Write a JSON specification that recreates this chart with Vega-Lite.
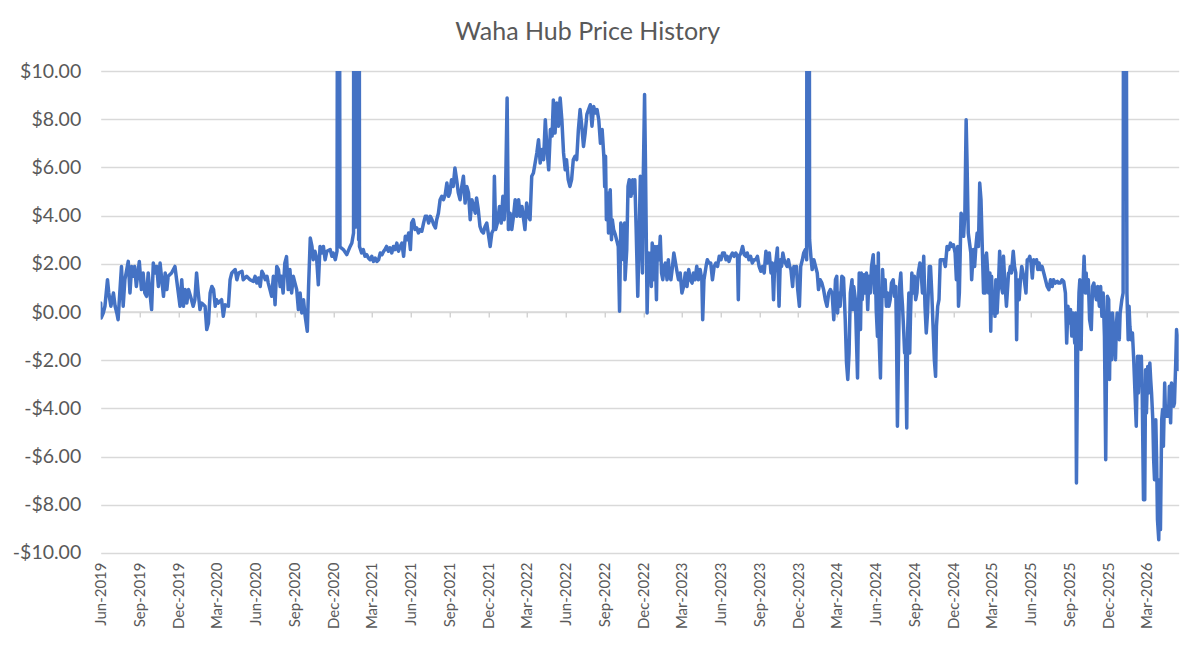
{
  "$schema": "https://vega.github.io/schema/vega-lite/v6.json",
  "width": 1078,
  "height": 482,
  "autosize": {"type": "none"},
  "padding": {"left": 100.7, "top": 71, "right": 21, "bottom": 116},
  "background": "white",
  "title": {
    "text": "Waha Hub Price History",
    "anchor": "middle",
    "frame": "group",
    "dx": -52,
    "offset": 16,
    "font": "Lato",
    "fontSize": 25,
    "fontWeight": "normal",
    "color": "#595959"
  },
  "config": {"view": {"stroke": null}},
  "resolve": {"axis": {"x": "independent"}},
  "layer": [
    {
      "data": {"values": [{}]},
      "mark": {"type": "rule", "color": "#d9d9d9", "strokeWidth": 1.3},
      "encoding": {
        "x": {
          "datum": {"year": 2019, "month": 6, "date": 1, "utc": true},
          "type": "temporal",
          "scale": {"type": "utc", "domain": [{"year": 2019, "month": 6, "date": 1, "utc": true}, {"year": 2026, "month": 5, "date": 16, "utc": true}]},
          "axis": {
            "orient": "bottom",
            "offset": -241,
            "title": null,
            "labels": false,
            "domain": false,
            "grid": false,
            "ticks": true,
            "tickSize": 5,
            "tickWidth": 1,
            "tickColor": "#bfbfbf",
            "values": [
              {"year": 2019, "month": 6, "date": 1, "utc": true}, {"year": 2019, "month": 9, "date": 1, "utc": true}, {"year": 2019, "month": 12, "date": 1, "utc": true},
              {"year": 2020, "month": 3, "date": 1, "utc": true}, {"year": 2020, "month": 6, "date": 1, "utc": true}, {"year": 2020, "month": 9, "date": 1, "utc": true}, {"year": 2020, "month": 12, "date": 1, "utc": true},
              {"year": 2021, "month": 3, "date": 1, "utc": true}, {"year": 2021, "month": 6, "date": 1, "utc": true}, {"year": 2021, "month": 9, "date": 1, "utc": true}, {"year": 2021, "month": 12, "date": 1, "utc": true},
              {"year": 2022, "month": 3, "date": 1, "utc": true}, {"year": 2022, "month": 6, "date": 1, "utc": true}, {"year": 2022, "month": 9, "date": 1, "utc": true}, {"year": 2022, "month": 12, "date": 1, "utc": true},
              {"year": 2023, "month": 3, "date": 1, "utc": true}, {"year": 2023, "month": 6, "date": 1, "utc": true}, {"year": 2023, "month": 9, "date": 1, "utc": true}, {"year": 2023, "month": 12, "date": 1, "utc": true},
              {"year": 2024, "month": 3, "date": 1, "utc": true}, {"year": 2024, "month": 6, "date": 1, "utc": true}, {"year": 2024, "month": 9, "date": 1, "utc": true}, {"year": 2024, "month": 12, "date": 1, "utc": true},
              {"year": 2025, "month": 3, "date": 1, "utc": true}, {"year": 2025, "month": 6, "date": 1, "utc": true}, {"year": 2025, "month": 9, "date": 1, "utc": true}, {"year": 2025, "month": 12, "date": 1, "utc": true},
              {"year": 2026, "month": 3, "date": 1, "utc": true}
            ]
          }
        },
        "x2": {"datum": {"year": 2026, "month": 5, "date": 16, "utc": true}},
        "y": {"datum": 0, "type": "quantitative"}
      }
    },
    {
      "data": {"values": [
        {"d":"2019-06-01","p":0.37},{"d":"2019-06-02","p":-0.25},{"d":"2019-06-07","p":-0.04},{"d":"2019-06-11","p":0.24},{"d":"2019-06-17","p":1.34},{"d":"2019-06-20","p":0.79},{"d":"2019-06-25","p":0.24},
        {"d":"2019-07-01","p":0.79},{"d":"2019-07-05","p":0.24},{"d":"2019-07-09","p":-0.04},{"d":"2019-07-12","p":-0.32},{"d":"2019-07-16","p":0.79},{"d":"2019-07-20","p":1.89},{"d":"2019-07-24","p":0.24},{"d":"2019-07-28","p":1.34},
        {"d":"2019-08-05","p":2.1},{"d":"2019-08-09","p":0.79},{"d":"2019-08-13","p":1.89},{"d":"2019-08-16","p":1.48},{"d":"2019-08-20","p":1.89},{"d":"2019-08-24","p":1.06},{"d":"2019-08-31","p":2.1},
        {"d":"2019-09-05","p":0.93},{"d":"2019-09-09","p":1.62},{"d":"2019-09-13","p":0.79},{"d":"2019-09-17","p":0.65},{"d":"2019-09-21","p":1.62},{"d":"2019-09-25","p":0.79},{"d":"2019-09-29","p":0.1},
        {"d":"2019-10-03","p":2.03},{"d":"2019-10-07","p":1.62},{"d":"2019-10-11","p":1.89},{"d":"2019-10-15","p":1.06},{"d":"2019-10-19","p":2.03},{"d":"2019-10-23","p":1.34},{"d":"2019-10-27","p":0.65},{"d":"2019-10-31","p":1.62},
        {"d":"2019-11-04","p":0.93},{"d":"2019-11-07","p":1.48},{"d":"2019-11-15","p":1.62},{"d":"2019-11-23","p":1.89},{"d":"2019-11-27","p":1.34},
        {"d":"2019-12-01","p":0.79},{"d":"2019-12-05","p":0.24},{"d":"2019-12-09","p":1.34},{"d":"2019-12-13","p":0.24},{"d":"2019-12-17","p":0.93},{"d":"2019-12-21","p":0.37},{"d":"2019-12-25","p":0.93},
        {"d":"2020-01-01","p":0.51},{"d":"2020-01-05","p":0.24},{"d":"2020-01-09","p":0.51},{"d":"2020-01-13","p":1.62},{"d":"2020-01-17","p":0.79},{"d":"2020-01-21","p":0.1},{"d":"2020-01-25","p":0.37},
        {"d":"2020-02-02","p":0.24},{"d":"2020-02-06","p":-0.73},{"d":"2020-02-10","p":-0.46},{"d":"2020-02-14","p":0.79},{"d":"2020-02-18","p":1.06},{"d":"2020-02-22","p":0.93},{"d":"2020-02-26","p":0.24},{"d":"2020-02-29","p":0.51},
        {"d":"2020-03-04","p":0.37},{"d":"2020-03-12","p":0.51},{"d":"2020-03-16","p":-0.18},{"d":"2020-03-20","p":0.3},{"d":"2020-03-28","p":0.24},
        {"d":"2020-04-01","p":1.34},{"d":"2020-04-05","p":1.62},{"d":"2020-04-13","p":1.76},{"d":"2020-04-17","p":1.34},{"d":"2020-04-21","p":1.62},{"d":"2020-04-29","p":1.69},
        {"d":"2020-05-02","p":1.34},{"d":"2020-05-10","p":1.48},{"d":"2020-05-18","p":1.34},{"d":"2020-05-26","p":1.27},{"d":"2020-05-30","p":1.48},
        {"d":"2020-06-03","p":1.2},{"d":"2020-06-07","p":1.41},{"d":"2020-06-11","p":1.06},{"d":"2020-06-15","p":1.69},{"d":"2020-06-19","p":1.55},{"d":"2020-06-23","p":1.34},{"d":"2020-06-27","p":1.48},{"d":"2020-06-30","p":1.2},
        {"d":"2020-07-04","p":0.93},{"d":"2020-07-08","p":0.65},{"d":"2020-07-12","p":1.48},{"d":"2020-07-16","p":0.3},{"d":"2020-07-20","p":1.89},{"d":"2020-07-24","p":1.76},{"d":"2020-07-28","p":1.06},{"d":"2020-07-31","p":1.48},
        {"d":"2020-08-04","p":0.79},{"d":"2020-08-08","p":2.03},{"d":"2020-08-12","p":2.3},{"d":"2020-08-16","p":0.93},{"d":"2020-08-20","p":1.76},{"d":"2020-08-24","p":0.79},{"d":"2020-08-28","p":1.48},
        {"d":"2020-09-01","p":1.2},{"d":"2020-09-05","p":0.93},{"d":"2020-09-09","p":0.1},{"d":"2020-09-13","p":0.79},{"d":"2020-09-17","p":-0.04},{"d":"2020-09-21","p":0.51},{"d":"2020-09-25","p":-0.18},{"d":"2020-09-30","p":-0.8},
        {"d":"2020-10-03","p":1.06},{"d":"2020-10-07","p":3.07},{"d":"2020-10-11","p":2.72},{"d":"2020-10-14","p":2.17},{"d":"2020-10-18","p":2.52},{"d":"2020-10-22","p":2.24},{"d":"2020-10-26","p":1.13},{"d":"2020-10-30","p":2.72},
        {"d":"2020-11-03","p":2.45},{"d":"2020-11-07","p":2.72},{"d":"2020-11-11","p":2.17},{"d":"2020-11-15","p":2.52},{"d":"2020-11-23","p":2.59},{"d":"2020-11-27","p":2.31},{"d":"2020-11-30","p":2.45},
        {"d":"2020-12-05","p":2.17},{"d":"2020-12-09","p":2.52},{"d":"2020-12-11","p":25},{"d":"2020-12-12","p":6},{"d":"2020-12-13","p":30},{"d":"2020-12-14","p":25},{"d":"2020-12-16","p":2.7},{"d":"2020-12-24","p":2.59},
        {"d":"2021-01-01","p":2.38},{"d":"2021-01-09","p":2.72},{"d":"2021-01-13","p":2.86},{"d":"2021-01-17","p":3.28},
        {"d":"2021-01-18","p":35},{"d":"2021-01-19","p":3.5},{"d":"2021-01-20","p":45},{"d":"2021-01-21","p":4},{"d":"2021-01-22","p":55},{"d":"2021-01-23","p":4},{"d":"2021-01-24","p":60},{"d":"2021-01-25","p":4},{"d":"2021-01-26","p":50},{"d":"2021-01-27","p":3.5},{"d":"2021-01-28","p":40},{"d":"2021-01-29","p":3},{"d":"2021-01-30","p":30},{"d":"2021-01-31","p":2.72},
        {"d":"2021-02-05","p":2.45},{"d":"2021-02-09","p":2.59},{"d":"2021-02-13","p":2.31},{"d":"2021-02-17","p":2.38},{"d":"2021-02-21","p":2.24},{"d":"2021-02-25","p":2.17},
        {"d":"2021-03-01","p":2.31},{"d":"2021-03-05","p":2.1},{"d":"2021-03-09","p":2.24},{"d":"2021-03-13","p":2.1},{"d":"2021-03-17","p":2.17},{"d":"2021-03-21","p":2.45},{"d":"2021-03-25","p":2.38},{"d":"2021-03-29","p":2.52},
        {"d":"2021-04-01","p":2.59},{"d":"2021-04-05","p":2.72},{"d":"2021-04-09","p":2.52},{"d":"2021-04-13","p":2.66},{"d":"2021-04-17","p":2.45},{"d":"2021-04-21","p":2.72},{"d":"2021-04-25","p":2.59},{"d":"2021-04-29","p":2.86},
        {"d":"2021-05-03","p":2.52},{"d":"2021-05-07","p":2.72},{"d":"2021-05-11","p":2.86},{"d":"2021-05-15","p":2.31},{"d":"2021-05-19","p":3.14},{"d":"2021-05-23","p":3.0},{"d":"2021-05-27","p":3.28},{"d":"2021-05-31","p":2.59},
        {"d":"2021-06-03","p":3.7},{"d":"2021-06-07","p":3.83},{"d":"2021-06-11","p":3.42},{"d":"2021-06-15","p":3.49},{"d":"2021-06-19","p":3.28},{"d":"2021-06-23","p":3.42},{"d":"2021-06-27","p":3.35},
        {"d":"2021-07-01","p":3.69},{"d":"2021-07-05","p":3.97},{"d":"2021-07-09","p":3.97},{"d":"2021-07-13","p":3.69},{"d":"2021-07-17","p":3.97},{"d":"2021-07-21","p":3.83},{"d":"2021-07-25","p":3.62},{"d":"2021-07-29","p":3.49},
        {"d":"2021-08-01","p":3.83},{"d":"2021-08-05","p":4.1},{"d":"2021-08-09","p":4.66},{"d":"2021-08-13","p":4.8},{"d":"2021-08-17","p":4.66},{"d":"2021-08-21","p":4.87},{"d":"2021-08-25","p":5.35},{"d":"2021-08-29","p":4.8},
        {"d":"2021-09-01","p":4.94},{"d":"2021-09-05","p":5.49},{"d":"2021-09-09","p":5.21},{"d":"2021-09-13","p":5.98},{"d":"2021-09-17","p":5.49},{"d":"2021-09-21","p":4.94},{"d":"2021-09-25","p":4.66},{"d":"2021-09-29","p":5.2},
        {"d":"2021-10-03","p":5.63},{"d":"2021-10-07","p":4.52},{"d":"2021-10-11","p":5.21},{"d":"2021-10-15","p":4.94},{"d":"2021-10-19","p":3.83},{"d":"2021-10-23","p":4.66},{"d":"2021-10-27","p":4.38},{"d":"2021-10-31","p":4.1},
        {"d":"2021-11-03","p":4.73},{"d":"2021-11-07","p":4.25},{"d":"2021-11-11","p":3.55},{"d":"2021-11-15","p":3.35},{"d":"2021-11-19","p":3.28},{"d":"2021-11-23","p":3.55},{"d":"2021-11-27","p":3.69},
        {"d":"2021-12-01","p":3.21},{"d":"2021-12-05","p":2.72},{"d":"2021-12-09","p":3.28},{"d":"2021-12-13","p":3.42},{"d":"2021-12-15","p":5.63},{"d":"2021-12-18","p":3.42},{"d":"2021-12-22","p":3.69},{"d":"2021-12-27","p":4.38},{"d":"2021-12-31","p":3.69},
        {"d":"2022-01-04","p":4.8},{"d":"2022-01-07","p":3.83},{"d":"2022-01-10","p":4.66},{"d":"2022-01-14","p":8.88},{"d":"2022-01-17","p":3.42},{"d":"2022-01-21","p":4.1},{"d":"2022-01-25","p":3.42},{"d":"2022-01-29","p":3.97},
        {"d":"2022-02-02","p":4.66},{"d":"2022-02-06","p":3.97},{"d":"2022-02-10","p":4.66},{"d":"2022-02-14","p":3.97},{"d":"2022-02-18","p":4.38},{"d":"2022-02-22","p":3.83},{"d":"2022-02-25","p":3.42},
        {"d":"2022-03-01","p":4.52},{"d":"2022-03-05","p":3.97},{"d":"2022-03-09","p":3.83},{"d":"2022-03-13","p":5.63},{"d":"2022-03-17","p":5.77},{"d":"2022-03-21","p":6.18},{"d":"2022-03-25","p":6.6},{"d":"2022-03-29","p":7.15},
        {"d":"2022-04-02","p":6.18},{"d":"2022-04-06","p":6.74},{"d":"2022-04-10","p":6.32},{"d":"2022-04-14","p":7.98},{"d":"2022-04-18","p":6.74},{"d":"2022-04-22","p":5.9},{"d":"2022-04-26","p":7.57},{"d":"2022-04-30","p":7.3},
        {"d":"2022-05-03","p":8.8},{"d":"2022-05-07","p":7.43},{"d":"2022-05-11","p":8.67},{"d":"2022-05-15","p":7.71},{"d":"2022-05-19","p":8.88},{"d":"2022-05-23","p":7.98},{"d":"2022-05-27","p":6.6},{"d":"2022-05-31","p":5.9},
        {"d":"2022-06-03","p":6.32},{"d":"2022-06-07","p":5.49},{"d":"2022-06-11","p":5.21},{"d":"2022-06-15","p":5.49},{"d":"2022-06-19","p":6.32},{"d":"2022-06-23","p":6.46},{"d":"2022-06-27","p":6.32},
        {"d":"2022-07-01","p":7.57},{"d":"2022-07-05","p":8.4},{"d":"2022-07-09","p":7.71},{"d":"2022-07-13","p":6.87},{"d":"2022-07-17","p":7.43},{"d":"2022-07-21","p":8.2},{"d":"2022-07-25","p":8.4},{"d":"2022-07-29","p":8.6},
        {"d":"2022-08-02","p":7.71},{"d":"2022-08-06","p":8.53},{"d":"2022-08-10","p":8.26},{"d":"2022-08-14","p":8.4},{"d":"2022-08-18","p":7.98},{"d":"2022-08-22","p":7.0},{"d":"2022-08-26","p":7.57},{"d":"2022-08-30","p":6.46},
        {"d":"2022-09-01","p":5.2},{"d":"2022-09-03","p":6.46},{"d":"2022-09-05","p":3.83},{"d":"2022-09-08","p":4.94},{"d":"2022-09-10","p":3.28},{"d":"2022-09-14","p":5.07},{"d":"2022-09-17","p":3.0},{"d":"2022-09-19","p":3.83},{"d":"2022-09-22","p":3.42},{"d":"2022-09-26","p":3.21},{"d":"2022-09-30","p":2.93},
        {"d":"2022-10-03","p":2.72},{"d":"2022-10-06","p":0.03},{"d":"2022-10-09","p":3.69},{"d":"2022-10-13","p":3.42},{"d":"2022-10-15","p":2.17},{"d":"2022-10-18","p":3.69},{"d":"2022-10-19","p":1.34},{"d":"2022-10-23","p":2.59},{"d":"2022-10-26","p":5.21},{"d":"2022-10-29","p":5.49},
        {"d":"2022-11-02","p":4.8},{"d":"2022-11-06","p":5.49},{"d":"2022-11-08","p":4.94},{"d":"2022-11-11","p":5.49},{"d":"2022-11-14","p":3.55},{"d":"2022-11-18","p":0.65},{"d":"2022-11-22","p":3.83},{"d":"2022-11-24","p":5.63},{"d":"2022-11-26","p":3.55},{"d":"2022-11-29","p":1.62},
        {"d":"2022-12-01","p":5.63},{"d":"2022-12-04","p":9.02},{"d":"2022-12-06","p":6.32},{"d":"2022-12-10","p":-0.04},{"d":"2022-12-13","p":2.45},{"d":"2022-12-15","p":1.48},{"d":"2022-12-18","p":2.45},{"d":"2022-12-20","p":1.06},{"d":"2022-12-22","p":2.86},{"d":"2022-12-25","p":1.34},{"d":"2022-12-28","p":2.72},{"d":"2022-12-30","p":1.89},
        {"d":"2023-01-01","p":0.51},{"d":"2023-01-03","p":2.72},{"d":"2023-01-07","p":2.17},{"d":"2023-01-10","p":3.14},{"d":"2023-01-13","p":1.62},{"d":"2023-01-16","p":1.34},{"d":"2023-01-19","p":1.89},{"d":"2023-01-22","p":2.03},{"d":"2023-01-26","p":1.34},{"d":"2023-01-29","p":2.17},
        {"d":"2023-02-01","p":1.48},{"d":"2023-02-04","p":1.34},{"d":"2023-02-07","p":1.76},{"d":"2023-02-11","p":2.45},{"d":"2023-02-15","p":2.03},{"d":"2023-02-19","p":1.62},{"d":"2023-02-22","p":1.34},{"d":"2023-02-26","p":1.62},
        {"d":"2023-03-02","p":0.79},{"d":"2023-03-06","p":1.06},{"d":"2023-03-10","p":1.62},{"d":"2023-03-14","p":1.06},{"d":"2023-03-18","p":1.76},{"d":"2023-03-22","p":1.34},{"d":"2023-03-26","p":1.2},{"d":"2023-03-29","p":1.62},
        {"d":"2023-04-02","p":1.34},{"d":"2023-04-06","p":1.9},{"d":"2023-04-10","p":1.34},{"d":"2023-04-14","p":1.76},{"d":"2023-04-18","p":1.34},{"d":"2023-04-20","p":-0.32},{"d":"2023-04-23","p":1.34},{"d":"2023-04-28","p":1.9},
        {"d":"2023-05-01","p":2.17},{"d":"2023-05-05","p":2.03},{"d":"2023-05-09","p":2.03},{"d":"2023-05-13","p":1.34},{"d":"2023-05-17","p":1.89},{"d":"2023-05-21","p":2.03},{"d":"2023-05-25","p":1.89},{"d":"2023-05-29","p":2.31},
        {"d":"2023-06-02","p":2.17},{"d":"2023-06-06","p":2.45},{"d":"2023-06-10","p":2.45},{"d":"2023-06-14","p":2.17},{"d":"2023-06-17","p":2.31},{"d":"2023-06-21","p":2.1},{"d":"2023-06-25","p":2.31},{"d":"2023-06-29","p":2.45},
        {"d":"2023-07-03","p":2.31},{"d":"2023-07-07","p":2.45},{"d":"2023-07-11","p":2.31},{"d":"2023-07-13","p":0.51},{"d":"2023-07-15","p":2.31},{"d":"2023-07-19","p":2.45},{"d":"2023-07-23","p":2.72},{"d":"2023-07-27","p":2.38},{"d":"2023-07-31","p":2.31},
        {"d":"2023-08-03","p":2.45},{"d":"2023-08-07","p":2.17},{"d":"2023-08-11","p":2.31},{"d":"2023-08-15","p":2.03},{"d":"2023-08-19","p":2.17},{"d":"2023-08-23","p":2.17},{"d":"2023-08-27","p":2.31},{"d":"2023-08-31","p":1.89},
        {"d":"2023-09-04","p":1.69},{"d":"2023-09-08","p":1.89},{"d":"2023-09-12","p":1.62},{"d":"2023-09-16","p":2.52},{"d":"2023-09-20","p":2.03},{"d":"2023-09-24","p":2.45},{"d":"2023-09-28","p":1.62},
        {"d":"2023-10-01","p":2.03},{"d":"2023-10-04","p":0.51},{"d":"2023-10-06","p":1.62},{"d":"2023-10-10","p":2.17},{"d":"2023-10-13","p":2.66},{"d":"2023-10-17","p":0.24},{"d":"2023-10-20","p":2.17},{"d":"2023-10-23","p":1.89},{"d":"2023-10-26","p":2.45},{"d":"2023-10-29","p":2.17},
        {"d":"2023-11-01","p":2.03},{"d":"2023-11-05","p":1.89},{"d":"2023-11-08","p":2.17},{"d":"2023-11-11","p":1.89},{"d":"2023-11-14","p":1.76},{"d":"2023-11-18","p":1.06},{"d":"2023-11-21","p":1.89},{"d":"2023-11-24","p":1.62},{"d":"2023-11-27","p":1.89},{"d":"2023-11-30","p":0.93},
        {"d":"2023-12-04","p":0.24},{"d":"2023-12-07","p":1.89},{"d":"2023-12-11","p":2.17},{"d":"2023-12-14","p":2.45},{"d":"2023-12-18","p":2.59},{"d":"2023-12-21","p":2.17},{"d":"2023-12-23","p":40},{"d":"2023-12-24","p":8},{"d":"2023-12-25","p":45},{"d":"2023-12-26","p":35},{"d":"2023-12-28","p":3.0},{"d":"2023-12-31","p":2.31},
        {"d":"2024-01-03","p":1.76},{"d":"2024-01-07","p":2.17},{"d":"2024-01-11","p":1.89},{"d":"2024-01-15","p":1.62},{"d":"2024-01-18","p":0.93},{"d":"2024-01-22","p":1.34},{"d":"2024-01-26","p":1.2},{"d":"2024-01-30","p":0.93},
        {"d":"2024-02-03","p":0.51},{"d":"2024-02-07","p":0.24},{"d":"2024-02-11","p":0.79},{"d":"2024-02-15","p":0.93},{"d":"2024-02-19","p":0.79},{"d":"2024-02-23","p":-0.32},{"d":"2024-02-27","p":1.34},
        {"d":"2024-03-01","p":1.48},{"d":"2024-03-03","p":-0.04},{"d":"2024-03-05","p":0.79},{"d":"2024-03-09","p":0.24},{"d":"2024-03-13","p":1.48},{"d":"2024-03-17","p":1.41},{"d":"2024-03-21","p":-0.32},{"d":"2024-03-24","p":-2.1},{"d":"2024-03-27","p":-2.8},{"d":"2024-03-30","p":-1.7},
        {"d":"2024-04-02","p":0.79},{"d":"2024-04-06","p":1.34},{"d":"2024-04-08","p":0.1},{"d":"2024-04-10","p":1.06},{"d":"2024-04-14","p":0.51},{"d":"2024-04-16","p":-0.87},{"d":"2024-04-19","p":-2.74},{"d":"2024-04-21","p":-0.32},{"d":"2024-04-23","p":1.62},{"d":"2024-04-26","p":-0.73},{"d":"2024-04-28","p":1.62},{"d":"2024-04-30","p":0.51},
        {"d":"2024-05-04","p":1.55},{"d":"2024-05-07","p":0.79},{"d":"2024-05-10","p":1.62},{"d":"2024-05-13","p":0.1},{"d":"2024-05-16","p":1.48},{"d":"2024-05-19","p":0.79},{"d":"2024-05-22","p":1.89},{"d":"2024-05-26","p":2.38},{"d":"2024-05-29","p":0.79},{"d":"2024-05-31","p":1.89},
        {"d":"2024-06-02","p":0.1},{"d":"2024-06-05","p":-1.01},{"d":"2024-06-07","p":2.45},{"d":"2024-06-09","p":-1.15},{"d":"2024-06-12","p":-2.74},{"d":"2024-06-14","p":-0.6},{"d":"2024-06-17","p":1.76},{"d":"2024-06-20","p":0.65},{"d":"2024-06-23","p":1.34},{"d":"2024-06-26","p":0.24},{"d":"2024-06-29","p":0.79},
        {"d":"2024-07-02","p":0.24},{"d":"2024-07-05","p":0.51},{"d":"2024-07-08","p":1.2},{"d":"2024-07-12","p":1.34},{"d":"2024-07-15","p":0.65},{"d":"2024-07-18","p":1.06},{"d":"2024-07-20","p":-1.15},{"d":"2024-07-22","p":-4.74},{"d":"2024-07-25","p":-1.15},{"d":"2024-07-27","p":1.06},{"d":"2024-07-30","p":1.62},
        {"d":"2024-08-01","p":0.79},{"d":"2024-08-03","p":0.24},{"d":"2024-08-06","p":-0.87},{"d":"2024-08-08","p":-1.7},{"d":"2024-08-10","p":-1.42},{"d":"2024-08-13","p":-4.81},{"d":"2024-08-15","p":-0.87},{"d":"2024-08-18","p":0.79},{"d":"2024-08-20","p":-1.7},{"d":"2024-08-22","p":-0.04},{"d":"2024-08-25","p":1.62},{"d":"2024-08-28","p":0.79},{"d":"2024-08-31","p":1.48},
        {"d":"2024-09-03","p":0.51},{"d":"2024-09-06","p":0.79},{"d":"2024-09-09","p":1.62},{"d":"2024-09-13","p":2.03},{"d":"2024-09-16","p":1.62},{"d":"2024-09-19","p":0.79},{"d":"2024-09-22","p":2.31},{"d":"2024-09-25","p":0.24},{"d":"2024-09-28","p":-0.87},
        {"d":"2024-10-01","p":-0.04},{"d":"2024-10-05","p":1.89},{"d":"2024-10-08","p":1.89},{"d":"2024-10-11","p":0.79},{"d":"2024-10-14","p":-0.6},{"d":"2024-10-17","p":-1.98},{"d":"2024-10-20","p":-2.67},{"d":"2024-10-22","p":-0.6},{"d":"2024-10-25","p":0.24},{"d":"2024-10-28","p":0.51},{"d":"2024-10-31","p":2.17},
        {"d":"2024-11-03","p":2.17},{"d":"2024-11-08","p":2.17},{"d":"2024-11-12","p":1.89},{"d":"2024-11-16","p":2.72},{"d":"2024-11-20","p":2.59},{"d":"2024-11-24","p":2.86},{"d":"2024-11-28","p":2.72},
        {"d":"2024-12-01","p":2.79},{"d":"2024-12-05","p":2.45},{"d":"2024-12-08","p":1.34},{"d":"2024-12-11","p":2.72},{"d":"2024-12-13","p":0.24},{"d":"2024-12-15","p":0.79},{"d":"2024-12-19","p":4.1},{"d":"2024-12-22","p":3.97},{"d":"2024-12-25","p":3.14},{"d":"2024-12-28","p":4.1},{"d":"2024-12-31","p":7.98},
        {"d":"2025-01-02","p":6.32},{"d":"2025-01-05","p":3.28},{"d":"2025-01-08","p":2.86},{"d":"2025-01-11","p":2.45},{"d":"2025-01-13","p":1.34},{"d":"2025-01-17","p":2.59},{"d":"2025-01-20","p":1.89},{"d":"2025-01-23","p":2.72},{"d":"2025-01-26","p":3.28},{"d":"2025-01-29","p":2.72},
        {"d":"2025-02-01","p":5.35},{"d":"2025-02-04","p":4.66},{"d":"2025-02-07","p":2.72},{"d":"2025-02-10","p":0.79},{"d":"2025-02-12","p":2.31},{"d":"2025-02-14","p":0.79},{"d":"2025-02-17","p":2.45},{"d":"2025-02-20","p":1.62},{"d":"2025-02-22","p":0.79},{"d":"2025-02-25","p":1.62},{"d":"2025-02-27","p":-0.8},
        {"d":"2025-03-01","p":1.48},{"d":"2025-03-04","p":-0.04},{"d":"2025-03-06","p":0.79},{"d":"2025-03-09","p":-0.18},{"d":"2025-03-11","p":1.34},{"d":"2025-03-14","p":-0.04},{"d":"2025-03-17","p":1.06},{"d":"2025-03-20","p":2.52},{"d":"2025-03-22","p":1.62},{"d":"2025-03-24","p":1.06},{"d":"2025-03-27","p":0.79},{"d":"2025-03-29","p":2.31},{"d":"2025-03-31","p":1.62},
        {"d":"2025-04-03","p":0.79},{"d":"2025-04-05","p":0.24},{"d":"2025-04-07","p":0.79},{"d":"2025-04-10","p":1.62},{"d":"2025-04-12","p":1.62},{"d":"2025-04-14","p":1.89},{"d":"2025-04-17","p":1.62},{"d":"2025-04-21","p":2.52},{"d":"2025-04-24","p":1.89},{"d":"2025-04-27","p":1.62},{"d":"2025-04-29","p":-1.15},
        {"d":"2025-05-01","p":1.34},{"d":"2025-05-05","p":0.51},{"d":"2025-05-08","p":1.34},{"d":"2025-05-11","p":1.89},{"d":"2025-05-14","p":1.62},{"d":"2025-05-17","p":1.34},{"d":"2025-05-21","p":0.79},{"d":"2025-05-24","p":2.17},{"d":"2025-05-27","p":2.17},{"d":"2025-05-30","p":2.31},
        {"d":"2025-06-02","p":2.03},{"d":"2025-06-05","p":1.41},{"d":"2025-06-08","p":2.17},{"d":"2025-06-12","p":2.03},{"d":"2025-06-15","p":2.17},{"d":"2025-06-18","p":1.76},{"d":"2025-06-21","p":2.03},{"d":"2025-06-24","p":1.76},{"d":"2025-06-28","p":1.89},
        {"d":"2025-07-02","p":1.62},{"d":"2025-07-06","p":1.34},{"d":"2025-07-10","p":1.06},{"d":"2025-07-14","p":0.93},{"d":"2025-07-18","p":1.34},{"d":"2025-07-22","p":1.06},{"d":"2025-07-25","p":1.34},{"d":"2025-07-29","p":1.2},
        {"d":"2025-08-03","p":1.27},{"d":"2025-08-06","p":1.2},{"d":"2025-08-10","p":1.2},{"d":"2025-08-14","p":1.34},{"d":"2025-08-18","p":1.27},{"d":"2025-08-22","p":0.79},{"d":"2025-08-25","p":-1.29},{"d":"2025-08-28","p":0.24},{"d":"2025-08-31","p":-0.46},
        {"d":"2025-09-03","p":0.1},{"d":"2025-09-06","p":-1.0},{"d":"2025-09-09","p":-0.04},{"d":"2025-09-13","p":-1.29},{"d":"2025-09-15","p":-0.04},{"d":"2025-09-17","p":-7.1},{"d":"2025-09-20","p":-1.29},{"d":"2025-09-23","p":0.79},{"d":"2025-09-25","p":1.34},{"d":"2025-09-28","p":-1.56},{"d":"2025-09-30","p":0.79},
        {"d":"2025-10-03","p":1.34},{"d":"2025-10-05","p":2.31},{"d":"2025-10-08","p":0.79},{"d":"2025-10-10","p":1.62},{"d":"2025-10-12","p":0.79},{"d":"2025-10-15","p":1.34},{"d":"2025-10-18","p":-0.32},{"d":"2025-10-22","p":-0.73},{"d":"2025-10-25","p":1.06},{"d":"2025-10-28","p":1.2},{"d":"2025-10-31","p":0.79},
        {"d":"2025-11-03","p":0.51},{"d":"2025-11-06","p":1.06},{"d":"2025-11-10","p":0.24},{"d":"2025-11-13","p":1.06},{"d":"2025-11-16","p":-0.18},{"d":"2025-11-19","p":0.79},{"d":"2025-11-22","p":-1.0},{"d":"2025-11-25","p":-6.13},{"d":"2025-11-27","p":-1.98},{"d":"2025-11-29","p":0.65},
        {"d":"2025-12-02","p":0.51},{"d":"2025-12-04","p":-2.8},{"d":"2025-12-06","p":-0.04},{"d":"2025-12-09","p":-1.98},{"d":"2025-12-11","p":-0.04},{"d":"2025-12-13","p":-0.6},{"d":"2025-12-15","p":-1.0},{"d":"2025-12-18","p":-1.98},{"d":"2025-12-20","p":-0.6},{"d":"2025-12-22","p":-0.04},{"d":"2025-12-25","p":-0.6},{"d":"2025-12-27","p":-1.15},{"d":"2025-12-29","p":-0.04},
        {"d":"2026-01-02","p":0.51},{"d":"2026-01-05","p":0.79},{"d":"2026-01-07","p":30},{"d":"2026-01-08","p":6},{"d":"2026-01-09","p":40},{"d":"2026-01-10","p":35},{"d":"2026-01-14","p":0.79},{"d":"2026-01-17","p":-1.15},{"d":"2026-01-19","p":0.24},{"d":"2026-01-21","p":-0.6},{"d":"2026-01-24","p":-1.15},{"d":"2026-01-27","p":-0.87},{"d":"2026-01-30","p":-1.98},
        {"d":"2026-02-02","p":-3.36},{"d":"2026-02-05","p":-4.74},{"d":"2026-02-08","p":-1.84},{"d":"2026-02-10","p":-3.36},{"d":"2026-02-12","p":-1.84},{"d":"2026-02-15","p":-2.67},{"d":"2026-02-17","p":-1.84},{"d":"2026-02-19","p":-3.36},{"d":"2026-02-22","p":-7.79},{"d":"2026-02-25","p":-7.79},{"d":"2026-02-27","p":-2.4},
        {"d":"2026-03-01","p":-4.19},{"d":"2026-03-04","p":-2.26},{"d":"2026-03-06","p":-3.36},{"d":"2026-03-09","p":-2.12},{"d":"2026-03-11","p":-2.8},{"d":"2026-03-13","p":-3.36},{"d":"2026-03-16","p":-4.47},{"d":"2026-03-18","p":-6.13},{"d":"2026-03-20","p":-6.96},{"d":"2026-03-23","p":-4.47},{"d":"2026-03-25","p":-6.13},{"d":"2026-03-27","p":-8.62},{"d":"2026-03-30","p":-9.45},
        {"d":"2026-04-01","p":-6.96},{"d":"2026-04-03","p":-9.03},{"d":"2026-04-06","p":-4.47},{"d":"2026-04-08","p":-4.05},{"d":"2026-04-10","p":-5.57},{"d":"2026-04-13","p":-2.95},{"d":"2026-04-15","p":-4.33},{"d":"2026-04-17","p":-4.33},{"d":"2026-04-20","p":-3.91},{"d":"2026-04-22","p":-4.33},{"d":"2026-04-24","p":-3.08},{"d":"2026-04-27","p":-4.6},{"d":"2026-04-29","p":-2.95},
        {"d":"2026-05-02","p":-3.08},{"d":"2026-05-04","p":-3.91},{"d":"2026-05-06","p":-3.78},{"d":"2026-05-09","p":-2.12},{"d":"2026-05-11","p":-0.73},{"d":"2026-05-13","p":-1.01},{"d":"2026-05-16","p":-2.39}
      ]},
      "mark": {"type": "line", "color": "#4472C4", "strokeWidth": 3.5, "strokeJoin": "round", "strokeCap": "round", "clip": true},
      "encoding": {
        "x": {
          "field": "d",
          "type": "temporal",
          "scale": {"type": "utc", "domain": [{"year": 2019, "month": 6, "date": 1, "utc": true}, {"year": 2026, "month": 5, "date": 16, "utc": true}]},
          "axis": {
            "orient": "bottom",
            "title": null,
            "format": "%b-%Y",
            "labelAngle": -90,
            "labelAlign": "right",
            "labelBaseline": "middle",
            "labelFont": "Lato",
            "labelFontSize": 15,
            "labelColor": "#595959",
            "labelPadding": 9,
            "labelOverlap": false,
            "ticks": false,
            "tickSize": 0,
            "domain": false,
            "grid": false,
            "values": [
              {"year": 2019, "month": 6, "date": 1, "utc": true}, {"year": 2019, "month": 9, "date": 1, "utc": true}, {"year": 2019, "month": 12, "date": 1, "utc": true},
              {"year": 2020, "month": 3, "date": 1, "utc": true}, {"year": 2020, "month": 6, "date": 1, "utc": true}, {"year": 2020, "month": 9, "date": 1, "utc": true}, {"year": 2020, "month": 12, "date": 1, "utc": true},
              {"year": 2021, "month": 3, "date": 1, "utc": true}, {"year": 2021, "month": 6, "date": 1, "utc": true}, {"year": 2021, "month": 9, "date": 1, "utc": true}, {"year": 2021, "month": 12, "date": 1, "utc": true},
              {"year": 2022, "month": 3, "date": 1, "utc": true}, {"year": 2022, "month": 6, "date": 1, "utc": true}, {"year": 2022, "month": 9, "date": 1, "utc": true}, {"year": 2022, "month": 12, "date": 1, "utc": true},
              {"year": 2023, "month": 3, "date": 1, "utc": true}, {"year": 2023, "month": 6, "date": 1, "utc": true}, {"year": 2023, "month": 9, "date": 1, "utc": true}, {"year": 2023, "month": 12, "date": 1, "utc": true},
              {"year": 2024, "month": 3, "date": 1, "utc": true}, {"year": 2024, "month": 6, "date": 1, "utc": true}, {"year": 2024, "month": 9, "date": 1, "utc": true}, {"year": 2024, "month": 12, "date": 1, "utc": true},
              {"year": 2025, "month": 3, "date": 1, "utc": true}, {"year": 2025, "month": 6, "date": 1, "utc": true}, {"year": 2025, "month": 9, "date": 1, "utc": true}, {"year": 2025, "month": 12, "date": 1, "utc": true},
              {"year": 2026, "month": 3, "date": 1, "utc": true}
            ]
          }
        },
        "y": {
          "field": "p",
          "type": "quantitative",
          "scale": {"domain": [-10, 10], "nice": false, "zero": false},
          "axis": {
            "title": null,
            "values": [-10, -8, -6, -4, -2, 0, 2, 4, 6, 8, 10],
            "labelExpr": "(datum.value < 0 ? '-$' : '$') + format(abs(datum.value), '.2f')",
            "labelFont": "Lato",
            "labelFontSize": 19.5,
            "labelColor": "#595959",
            "labelPadding": 20,
            "ticks": false,
            "tickSize": 0,
            "domain": false,
            "grid": true,
            "gridColor": "#d9d9d9",
            "gridWidth": 1.3
          }
        }
      }
    }
  ]
}
